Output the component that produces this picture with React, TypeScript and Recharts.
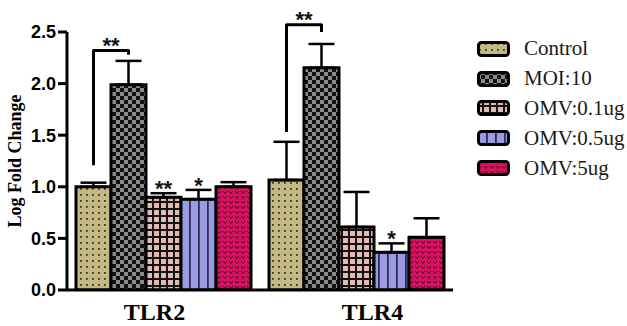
import { BarChart, Bar, XAxis, YAxis, ErrorBar, LabelList } from 'recharts';

const categories = ['TLR2', 'TLR4'];
const control = [1.0, 1.066];
const controlErr = [0.04, 0.37];
const moi = [1.99, 2.154];
const moiErr = [0.23, 0.23];
const omv01 = [0.898, 0.61];
const omv01Err = [0.04, 0.34];
const omv05 = [0.88, 0.365];
const omv05Err = [0.09, 0.087];
const omv5 = [1.0, 0.51];
const omv5Err = [0.045, 0.185];
const yTicks = [0, 0.5, 1.0, 1.5, 2.0, 2.5];

// significance marks
const omv01Stars = ['**', ''];
const omv05Stars = ['*', '*'];
const bracketLow = [1.21, 1.53];
const bracketTop = [2.32, 2.57];
const bracketRightEnd = [2.28, 2.5];
const bracketStars = ['**', '**'];

const series = [
  { key: 'control', name: 'Control', fill: 'url(#pControl)' },
  { key: 'moi', name: 'MOI:10', fill: 'url(#pMoi)' },
  { key: 'omv01', name: 'OMV:0.1ug', fill: 'url(#pOmv01)' },
  { key: 'omv05', name: 'OMV:0.5ug', fill: 'url(#pOmv05)' },
  { key: 'omv5', name: 'OMV:5ug', fill: 'url(#pOmv5)' },
];

const data = categories.map((name, i) => ({
  name,
  control: control[i],
  controlErr: [0, controlErr[i]],
  moi: moi[i],
  moiErr: [0, moiErr[i]],
  omv01: omv01[i],
  omv01Err: [0, omv01Err[i]],
  omv05: omv05[i],
  omv05Err: [0, omv05Err[i]],
  omv5: omv5[i],
  omv5Err: [0, omv5Err[i]],
}));

const serif = '"Liberation Serif", "Times New Roman", serif';
const sans = '"Liberation Sans", Arial, sans-serif';

function box(props: any) {
  const vb = props.viewBox && props.viewBox.width != null ? props.viewBox : props;
  return { x: vb.x, y: vb.y, width: vb.width, height: vb.height };
}

function starLabel(values: number[], errs: number[], stars: string[]) {
  return (props: any) => {
    const i = categories.indexOf(props.value);
    if (i < 0 || !stars[i]) return null;
    const { x, y, width, height } = box(props);
    const ppu = height / values[i];
    const base = y + height;
    const capY = base - ppu * (values[i] + errs[i]);
    return (
      <text x={x + width / 2} y={capY + 3} textAnchor="middle" fontFamily={sans} fontWeight="bold" fontSize={22} fill="#111">
        {stars[i]}
      </text>
    );
  };
}

function bracketLabel(props: any) {
  const i = categories.indexOf(props.value);
  if (i < 0) return null;
  const { x, y, width, height } = box(props);
  const ppu = height / control[i];
  const base = y + height;
  const x1 = x + width / 2;
  const x2 = x + width * 1.5;
  const yLow = base - ppu * bracketLow[i];
  const yTop = base - ppu * bracketTop[i];
  const yEnd = base - ppu * bracketRightEnd[i];
  return (
    <g>
      <path d={`M${x1},${yLow} L${x1},${yTop} L${x2},${yTop} L${x2},${yEnd}`} fill="none" stroke="#000" strokeWidth={3} strokeLinejoin="round" />
      <text x={(x1 + x2) / 2} y={yTop + 2} textAnchor="middle" fontFamily={sans} fontWeight="bold" fontSize={22} fill="#111">
        {bracketStars[i]}
      </text>
    </g>
  );
}

const tickShift = [-9, 16];

function CategoryTick(props: any) {
  const { x, y, payload, index } = props;
  return (
    <text x={x + (tickShift[index] || 0)} y={y} dy="0.71em" textAnchor="middle" fontFamily={serif} fontWeight="bold" fontSize={24} fill="#000">
      {payload.value}
    </text>
  );
}

function YLabel(props: any) {
  const vb = props.viewBox;
  const cx = vb.x + 8;
  const cy = vb.y + vb.height / 2;
  return (
    <text x={cx} y={cy} transform={`rotate(-90, ${cx}, ${cy})`} textAnchor="middle" dominantBaseline="central" fontFamily={serif} fontWeight="bold" fontSize={18} fill="#000">
      Log Fold Change
    </text>
  );
}

function ChartLegend() {
  return (
    <div style={{ position: 'absolute', left: 477, top: 34 }}>
      {series.map((s) => (
        <div key={s.key} style={{ display: 'flex', alignItems: 'center', height: 29.8 }}>
          <svg width={33} height={16} style={{ display: 'block' }}>
            <rect x={1.5} y={1.5} width={30} height={13} rx={3} fill={s.fill} stroke="#000" strokeWidth={3} />
          </svg>
          <span style={{ marginLeft: 14, fontFamily: serif, fontSize: 21, color: '#1a1a1a', lineHeight: 1 }}>{s.name}</span>
        </div>
      ))}
    </div>
  );
}

export default function App() {
  return (
    <div style={{ position: 'fixed', left: 0, top: 0, width: 627, height: 326, background: '#fff' }}>
      <BarChart
        width={627}
        height={326}
        data={data}
        margin={{ top: 32, right: 174, bottom: 0, left: 7 }}
        barCategoryGap={9}
        barGap={0}
      >
        <defs>
          <pattern id="pControl" patternUnits="userSpaceOnUse" width={6} height={6}>
            <rect width={6} height={6} fill="#c4b883" />
            <rect x={2} y={2} width={1.8} height={1.8} fill="#3a3522" />
          </pattern>
          <pattern id="pMoi" patternUnits="userSpaceOnUse" width={8} height={8}>
            <rect width={8} height={8} fill="#8a8a8a" />
            <rect x={0} y={0} width={4} height={4} fill="#111" />
            <rect x={4} y={4} width={4} height={4} fill="#111" />
          </pattern>
          <pattern id="pOmv01" patternUnits="userSpaceOnUse" width={7} height={7}>
            <rect width={7} height={7} fill="#111" />
            <rect x={0} y={0} width={5} height={5} fill="#e5b9b3" />
          </pattern>
          <pattern id="pOmv05" patternUnits="userSpaceOnUse" width={9} height={10}>
            <rect width={9} height={10} fill="#9a9be0" />
            <rect x={0} y={0} width={1.8} height={10} fill="#2c2c5a" />
          </pattern>
          <pattern id="pOmv5" patternUnits="userSpaceOnUse" width={6} height={5}>
            <rect width={6} height={5} fill="#d8125e" />
            <path d="M1,1 L3,3.5 L5,1" fill="none" stroke="#4a0b24" strokeWidth={1} />
          </pattern>
        </defs>
        <XAxis
          dataKey="name"
          axisLine={{ stroke: '#000', strokeWidth: 3 }}
          tickLine={false}
          tickSize={6}
          tickMargin={7}
          height={36}
          tick={<CategoryTick />}
        />
        <YAxis
          domain={[0, 2.5]}
          ticks={yTicks}
          allowDataOverflow
          width={60}
          axisLine={{ stroke: '#000', strokeWidth: 3 }}
          tickLine={{ stroke: '#000', strokeWidth: 3 }}
          tickSize={9}
          tickMargin={2}
          tickFormatter={(v: number) => v.toFixed(1)}
          tick={{ fill: '#000', fontFamily: sans, fontWeight: 'bold', fontSize: 18 }}
          label={<YLabel />}
        />
        <Bar dataKey="control" name="Control" fill="url(#pControl)" stroke="#000" strokeWidth={3} isAnimationActive={false}>
          <ErrorBar dataKey="controlErr" width={13} stroke="#000" strokeWidth={2.5} />
          <LabelList dataKey="name" content={bracketLabel} />
        </Bar>
        <Bar dataKey="moi" name="MOI:10" fill="url(#pMoi)" stroke="#000" strokeWidth={3} isAnimationActive={false}>
          <ErrorBar dataKey="moiErr" width={13} stroke="#000" strokeWidth={2.5} />
        </Bar>
        <Bar dataKey="omv01" name="OMV:0.1ug" fill="url(#pOmv01)" stroke="#000" strokeWidth={3} isAnimationActive={false}>
          <ErrorBar dataKey="omv01Err" width={13} stroke="#000" strokeWidth={2.5} />
          <LabelList dataKey="name" content={starLabel(omv01, omv01Err, omv01Stars)} />
        </Bar>
        <Bar dataKey="omv05" name="OMV:0.5ug" fill="url(#pOmv05)" stroke="#000" strokeWidth={3} isAnimationActive={false}>
          <ErrorBar dataKey="omv05Err" width={13} stroke="#000" strokeWidth={2.5} />
          <LabelList dataKey="name" content={starLabel(omv05, omv05Err, omv05Stars)} />
        </Bar>
        <Bar dataKey="omv5" name="OMV:5ug" fill="url(#pOmv5)" stroke="#000" strokeWidth={3} isAnimationActive={false}>
          <ErrorBar dataKey="omv5Err" width={13} stroke="#000" strokeWidth={2.5} />
        </Bar>
      </BarChart>
      <ChartLegend />
    </div>
  );
}
